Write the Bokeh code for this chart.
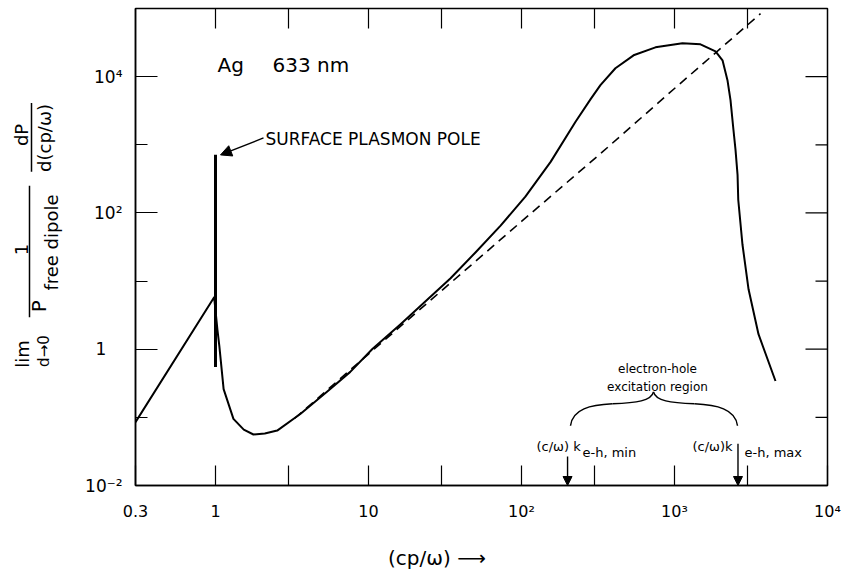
import math
from bokeh.plotting import figure
from bokeh.layouts import row
from bokeh.models import Range1d, FixedTicker, Label, Arrow, NormalHead
from bokeh.core.properties import value
from bokeh.embed import file_html
from bokeh.resources import INLINE

# ---- data ----
x_solid = [0.3, 0.98, 1.03, 1.06, 1.13, 1.31, 1.53, 1.77, 2.1, 2.53, 3.6, 5.5, 7.6,
           10.6, 16.2, 23.6, 34.4, 50, 73, 106, 155, 225, 283, 328, 411, 540, 751,
           1127, 1479, 1854, 2060, 2219, 2323, 2429, 2505, 2583, 2610, 2781, 3048,
           3540, 4572]
y_solid = [0.085, 5.8, 1.9, 1.1, 0.26, 0.095, 0.066, 0.056, 0.058, 0.064, 0.113, 0.25,
           0.465, 1.005, 2.33, 5.05, 11.0, 26.3, 65.2, 173, 561, 2158, 4677, 7499,
           13270, 20560, 26900, 30800, 29780, 23500, 17380, 8870, 4520, 1648, 841,
           362, 156, 34.4, 7.57, 1.66, 0.342]
x_dashed = [3.3, 10, 100, 328, 1000, 3650]
y_dashed = [0.097, 0.85, 75, 740, 6700, 84000]
pole_x = [1.0]
pole_low = [0.55]
pole_high = [715]
k_min = 200
k_max = 2600

x_major = [0.3, 1, 10, 100, 1000, 10000]
x_minor = [3, 30, 300, 3000]
x_labels = {0.3: "0.3", 1: "1", 10: "10", 100: "10²", 1000: "10³", 10000: "10⁴"}
y_major = [0.01, 1, 100, 10000]
y_minor = [0.1, 10, 1000]
y_labels = {0.01: "10⁻²", 1: "1\u2007\u2008", 100: "10²", 10000: "10⁴"}

X0, X1 = 0.3, 1e4
Y0, Y1 = 0.01, 1e5
LEFT_W = 70
H = 572
# frame position on the page (pixels)
FL, FR, FT, FB = 135, 827, 8, 487

def dx(px):
    return 10 ** (math.log10(X0) + (px - FL) / (FR - FL) * math.log10(X1 / X0))

def dy(py):
    return 10 ** (math.log10(Y0) + (FB - py) / (FB - FT) * math.log10(Y1 / Y0))

FONT = "DejaVu Sans"

p = figure(width=848 - LEFT_W, height=H, x_axis_type="log", y_axis_type="log",
           x_range=Range1d(X0, X1), y_range=Range1d(Y0, Y1),
           output_backend="svg", toolbar_location=None,
           min_border_left=FL - LEFT_W, min_border_right=848 - FR,
           min_border_top=FT, min_border_bottom=H - FB)
p.xgrid.visible = False
p.ygrid.visible = False
p.outline_line_color = "black"
p.outline_line_width = 1.5

# x axis
p.xaxis.ticker = FixedTicker(ticks=x_major, minor_ticks=x_minor)
p.xaxis.major_label_overrides = x_labels
p.xaxis.major_tick_in = 20
p.xaxis.major_tick_out = 0
p.xaxis.minor_tick_in = 20
p.xaxis.minor_tick_out = 0
p.xaxis.major_label_standoff = 16
p.xaxis.major_label_text_font = FONT
p.xaxis.major_label_text_font_size = "16px"
p.xaxis.major_label_text_color = "black"
p.xaxis.axis_line_width = 1.5
p.xaxis.major_tick_line_width = 1.2
p.xaxis.minor_tick_line_width = 1.2
p.xaxis.axis_label = "(cp/ω) ⟶" + "\u2007" * 7
p.xaxis.axis_label_text_font = FONT
p.xaxis.axis_label_text_font_style = "normal"
p.xaxis.axis_label_text_font_size = "20px"
p.xaxis.axis_label_text_color = "black"
p.xaxis.axis_label_standoff = 22

# y axis
p.yaxis.ticker = FixedTicker(ticks=y_major, minor_ticks=y_minor)
p.yaxis.major_label_overrides = y_labels
p.yaxis.major_tick_in = 22
p.yaxis.major_tick_out = 0
p.yaxis.minor_tick_in = 12
p.yaxis.minor_tick_out = 0
p.yaxis.major_label_standoff = 13
p.yaxis.major_label_text_font = FONT
p.yaxis.major_label_text_font_size = "17px"
p.yaxis.major_label_text_color = "black"
p.yaxis.axis_line_width = 1.5
p.yaxis.major_tick_line_width = 1.2
p.yaxis.minor_tick_line_width = 1.2

# top and right ticks
top_ticks = [1, 3, 10, 30, 100, 300, 1000, 3000]
p.segment(x0=top_ticks, y0=[Y1] * len(top_ticks), x1=top_ticks,
          y1=[dy(FT + 20)] * len(top_ticks), line_color="black", line_width=1.2)
p.segment(x0=[X1] * len(y_major), y0=y_major, x1=[dx(FR - 22)] * len(y_major),
          y1=y_major, line_color="black", line_width=1.2)
p.segment(x0=[X1] * len(y_minor), y0=y_minor, x1=[dx(FR - 12)] * len(y_minor),
          y1=y_minor, line_color="black", line_width=1.2)

# curves
p.line(x_dashed, y_dashed, line_color="black", line_width=1.6, line_dash="9 6")
p.line(x_solid, y_solid, line_color="black", line_width=2, line_join="round")
p.segment(x0=pole_x, y0=pole_low, x1=pole_x, y1=pole_high, line_color="black", line_width=3)

def lab(text, px, py, size, align="left", baseline="middle", angle=0):
    p.add_layout(Label(x=dx(px), y=dy(py), text=text, text_font=FONT,
                       text_font_size=f"{size}px", text_align=align,
                       text_baseline=baseline, angle=angle, text_color="black"))

def arrow(px0, py0, px1, py1, size=10):
    p.add_layout(Arrow(end=NormalHead(size=size, fill_color="black", line_color="black"),
                       x_start=dx(px0), y_start=dy(py0), x_end=dx(px1), y_end=dy(py1),
                       line_color="black", line_width=1.4))

# titles / annotations inside the frame
lab("Ag", 217, 65, 20)
lab("633 nm", 272, 65, 20)
lab("SURFACE PLASMON POLE", 265, 139, 17)
arrow(263, 138, 220, 155, 11)

lab("electron-hole", 657, 370, 12, align="center")
lab("excitation region", 657, 388, 12, align="center")

# curly brace
bx = [(570, 427, 572, 410, 590, 406, 612, 405),
      (612, 405, 636, 404, 651, 402, 653, 393),
      (653, 393, 655, 402, 670, 404, 694, 405),
      (694, 405, 716, 406, 735, 410, 737, 427)]
p.bezier(x0=[dx(b[0]) for b in bx], y0=[dy(b[1]) for b in bx],
         cx0=[dx(b[2]) for b in bx], cy0=[dy(b[3]) for b in bx],
         cx1=[dx(b[4]) for b in bx], cy1=[dy(b[5]) for b in bx],
         x1=[dx(b[6]) for b in bx], y1=[dy(b[7]) for b in bx],
         line_color="black", line_width=1.5)

# k markers
p.add_layout(Arrow(end=NormalHead(size=9, fill_color="black"), x_start=k_min, y_start=dy(458),
                   x_end=k_min, y_end=Y0, line_color="black", line_width=1.4))
p.add_layout(Arrow(end=NormalHead(size=9, fill_color="black"), x_start=k_max, y_start=dy(445),
                   x_end=k_max, y_end=Y0, line_color="black", line_width=1.4))
lab("(c/ω) k", 536, 448, 13)
lab("e-h, min", 582, 454, 13)
lab("(c/ω)k", 692, 448, 13)
lab("e-h, max", 744, 454, 13)

# ---- left strip: y-axis title built as a fraction (pixel coordinates) ----
q = figure(width=LEFT_W, height=H, x_range=Range1d(0, LEFT_W), y_range=Range1d(H - FB, H - FT),
           output_backend="svg", toolbar_location=None, min_border_left=0, min_border_right=0,
           min_border_top=FT, min_border_bottom=H - FB,
           x_axis_location=None, y_axis_location=None)
q.outline_line_color = None
q.xgrid.visible = False
q.ygrid.visible = False

R = math.pi / 2
t_text = ["dP", "d(cp/ω)", "1", "P", "free dipole", "lim", "d→0"]
t_px = [21, 44, 21, 38, 51, 22, 43]
t_py = [135, 138, 250, 307, 243, 355, 352]
t_size = ["18px", "18px", "18px", "20px", "18px", "18px", "15px"]
q.text(x=t_px, y=[H - v for v in t_py], text=t_text, angle=R,
       text_font=value(FONT), text_font_size=t_size, text_align="center",
       text_baseline="middle", text_color="black")
b_px = [31, 29]
b_top = [103, 186]
b_bot = [172, 318]
q.segment(x0=b_px, y0=[H - v for v in b_top], x1=b_px, y1=[H - v for v in b_bot],
          line_color="black", line_width=1.5)

layout = row(q, p)
open("out.html", "w").write(file_html(layout, INLINE))
